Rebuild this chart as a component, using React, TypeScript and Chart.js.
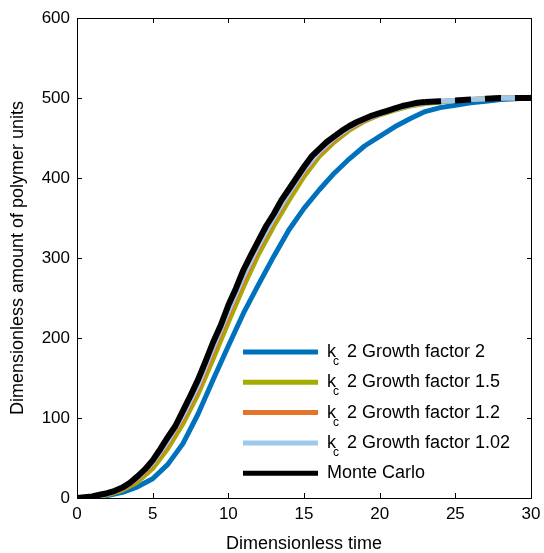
import React, { useEffect, useRef } from "react";
import { Chart, registerables } from "chart.js";

Chart.register(...registerables);

const timeValues = [0, 1, 2, 3, 4, 5, 6, 7, 8, 9, 10, 11, 12, 13, 14, 15, 16, 17, 18, 19, 20, 21, 22, 23, 24, 25, 26, 27, 28, 29, 30];

const growth2 = [0, 1, 3, 7, 14, 24, 42, 68, 105, 148, 190, 231, 267, 302, 335, 362, 385, 406, 424, 440, 452, 464, 474, 483, 488, 491, 494, 496, 498, 499, 500];
const growth15 = [0, 1, 4, 10, 20, 37, 62, 93, 130, 174, 220, 264, 305, 340, 372, 402, 427, 445, 460, 471, 479, 485, 490, 493, 495, 497, 498, 499, 500, 500, 500];
const growth12 = [0, 1, 5, 11, 23, 42, 68, 100, 137, 183, 229, 273, 313, 347, 379, 408, 431, 448, 462, 472, 480, 486, 491, 494, 496, 497, 498, 499, 500, 500, 501];
const growth102 = [0, 1, 5, 12, 25, 44, 71, 103, 141, 188, 233, 277, 316, 350, 381, 410, 433, 450, 463, 473, 480, 486, 491, 494, 496, 497, 498, 499, 500, 500, 500];

const monteCarloTime = [0, 0.5, 1, 1.5, 2, 2.5, 3, 3.5, 4, 4.5, 5, 5.5, 6, 6.5, 7, 7.5, 8, 8.5, 9, 9.5, 10, 10.5, 11, 11.5, 12, 12.5, 13, 13.5, 14, 14.5, 15, 15.5, 16, 16.5, 17, 17.5, 18, 18.5, 19, 19.5, 20, 20.5, 21, 21.5, 22, 22.5, 23, 24, 25, 26, 27, 28, 29, 30];
const monteCarlo = [0, 1, 2, 4, 6, 9, 13, 19, 27, 36, 47, 61, 76, 90, 109, 128, 148, 171, 195, 216, 241, 262, 285, 304, 322, 340, 355, 372, 386, 400, 414, 427, 436, 445, 452, 459, 465, 470, 474, 478, 481, 484, 487, 490, 492, 494, 495, 496, 497, 498, 499, 500, 500, 500];
const dashStart = 23;

const xTicks = [0, 5, 10, 15, 20, 25, 30];
const yTicks = [0, 100, 200, 300, 400, 500, 600];

const legendLabels = ["2 Growth factor 2", "2 Growth factor 1.5", "2 Growth factor 1.2", "2 Growth factor 1.02", "Monte Carlo"];
const legendSub = [true, true, true, true, false];

const COLORS = {
  blue: "rgb(0,114,189)",
  olive: "rgb(165,172,0)",
  orange: "rgb(228,115,44)",
  light: "rgb(158,201,235)",
  black: "rgb(0,0,0)",
};
const legendColors = [COLORS.blue, COLORS.olive, COLORS.orange, COLORS.light, COLORS.black];

const FONT = "Arial, 'Liberation Sans', Helvetica, sans-serif";

const frameAndLegend = {
  id: "frameAndLegend",
  afterDraw(chart: any) {
    const { ctx, chartArea } = chart;
    const left = Math.round(chartArea.left);
    const right = Math.round(chartArea.right);
    const top = Math.round(chartArea.top);
    const bottom = Math.round(chartArea.bottom);
    const xs = chart.scales.x;
    const ys = chart.scales.y;
    ctx.save();
    ctx.setLineDash([]);
    ctx.globalAlpha = 1;
    ctx.fillStyle = "#000";
    ctx.fillRect(left, top, right - left + 1, 1);
    ctx.fillRect(left, bottom, right - left + 1, 1);
    ctx.fillRect(left, top, 1, bottom - top + 1);
    ctx.fillRect(right, top, 1, bottom - top + 1);
    const tl = 5;
    xTicks.forEach((v) => {
      const px = Math.round(xs.getPixelForValue(v));
      ctx.fillRect(px, bottom - tl, 1, tl);
      ctx.fillRect(px, top, 1, tl);
    });
    yTicks.forEach((v) => {
      const py = Math.round(ys.getPixelForValue(v));
      ctx.fillRect(left, py, tl, 1);
      ctx.fillRect(right - tl + 1, py, tl, 1);
    });

    const lx0 = chartArea.left + 166;
    const lx1 = chartArea.left + 241;
    const tx = chartArea.left + 250;
    legendLabels.forEach((label, i) => {
      const y = chartArea.bottom - 146 + i * 30.3;
      ctx.strokeStyle = legendColors[i];
      ctx.lineWidth = 5;
      ctx.lineCap = "butt";
      ctx.beginPath();
      ctx.moveTo(lx0, y);
      ctx.lineTo(lx1, y);
      ctx.stroke();
      ctx.fillStyle = "#000";
      ctx.textBaseline = "alphabetic";
      ctx.textAlign = "left";
      const base = y + 5;
      if (legendSub[i]) {
        ctx.font = `18px ${FONT}`;
        ctx.fillText("k", tx, base);
        ctx.font = `12px ${FONT}`;
        ctx.fillText("c", tx + 6, base + 8);
        ctx.font = `18px ${FONT}`;
        ctx.fillText(label, tx + 20, base);
      } else {
        ctx.font = `18px ${FONT}`;
        ctx.fillText(label, tx, base);
      }
    });
    ctx.restore();
  },
};

export default function App() {
  const ref = useRef<HTMLCanvasElement | null>(null);
  useEffect(() => {
    if (!ref.current) return;
    document.body.style.margin = "0";
    const pts = (ys: number[]) => timeValues.map((t, i) => ({ x: t, y: ys[i] }));
    const mcSolid = monteCarloTime
      .map((t, i) => ({ x: t, y: monteCarlo[i] }))
      .filter((p) => p.x <= dashStart);
    const mcDash = monteCarloTime
      .map((t, i) => ({ x: t, y: monteCarlo[i] }))
      .filter((p) => p.x >= dashStart);
    const common = { pointRadius: 0, fill: false, tension: 0, borderJoinStyle: "round" as const };
    const chart = new Chart(ref.current, {
      type: "line",
      data: {
        datasets: [
          { label: "Monte Carlo", data: mcSolid, borderColor: COLORS.black, borderWidth: 6, ...common },
          { label: "Monte Carlo tail", data: mcDash, borderColor: COLORS.black, borderWidth: 6, borderDash: [16, 14], ...common },
          { label: "kc 2 Growth factor 1.02", data: pts(growth102), borderColor: COLORS.light, borderWidth: 5, ...common },
          { label: "kc 2 Growth factor 1.2", data: pts(growth12), borderColor: COLORS.orange, borderWidth: 5, ...common },
          { label: "kc 2 Growth factor 1.5", data: pts(growth15), borderColor: COLORS.olive, borderWidth: 5, ...common },
          { label: "kc 2 Growth factor 2", data: pts(growth2), borderColor: COLORS.blue, borderWidth: 5, ...common },
        ],
      },
      options: {
        animation: false,
        responsive: true,
        maintainAspectRatio: false,
        layout: { padding: { left: 0, right: 13, top: 18, bottom: 0 } },
        plugins: { legend: { display: false }, tooltip: { enabled: false } },
        scales: {
          x: {
            type: "linear",
            min: 0,
            max: 30,
            grid: { display: false, drawTicks: false },
            border: { display: false },
            afterBuildTicks: (s: any) => {
              s.ticks = xTicks.map((v) => ({ value: v }));
            },
            afterFit: (s: any) => {
              s.height = 55;
              s.paddingLeft = 0;
              s.paddingRight = 0;
            },
            ticks: { color: "#000", font: { family: FONT, size: 17 }, padding: 6, maxRotation: 0 },
            title: { display: true, text: "Dimensionless time", color: "#000", font: { family: FONT, size: 18 }, padding: { top: 0, bottom: -2 } },
          },
          y: {
            type: "linear",
            min: 0,
            max: 600,
            grid: { display: false, drawTicks: false },
            border: { display: false },
            afterBuildTicks: (s: any) => {
              s.ticks = yTicks.map((v) => ({ value: v }));
            },
            afterFit: (s: any) => {
              s.width = 77;
              s.paddingTop = 0;
              s.paddingBottom = 0;
            },
            ticks: { color: "#000", font: { family: FONT, size: 17 }, padding: 7 },
            title: { display: true, text: "Dimensionless amount of polymer units", color: "#000", font: { family: FONT, size: 18 }, padding: { top: 7, bottom: 0 } },
          },
        },
      },
      plugins: [frameAndLegend],
    });
    return () => chart.destroy();
  }, []);
  return (
    <div style={{ width: 544, height: 553 }}>
      <canvas ref={ref} />
    </div>
  );
}
